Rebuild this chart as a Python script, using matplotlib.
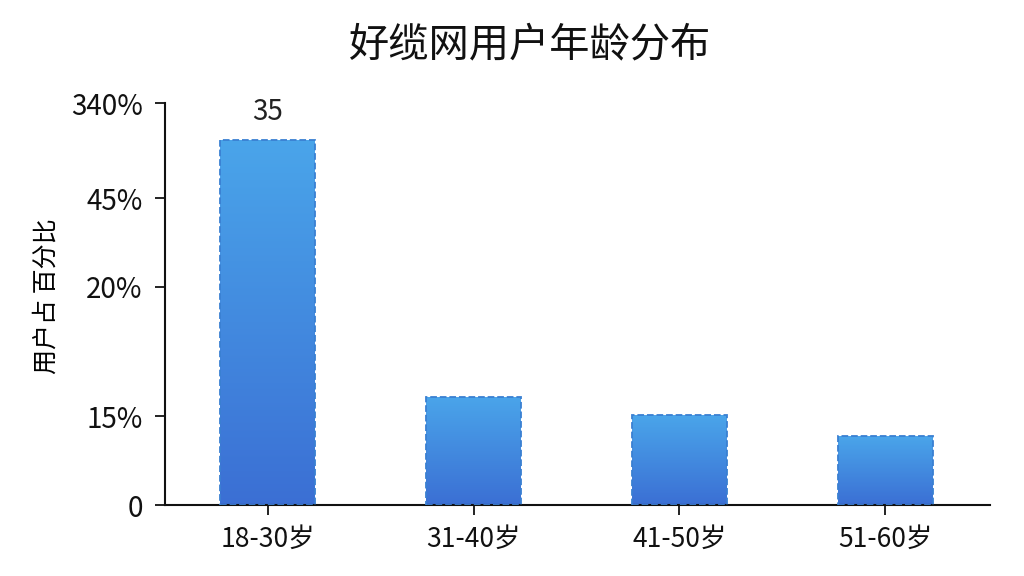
import numpy as np
import matplotlib.pyplot as plt
from matplotlib.colors import LinearSegmentedColormap

plt.rcParams['font.family'] = ['Noto Sans CJK SC', 'DejaVu Sans']

# 数据
categories = ['18-30岁', '31-40岁', '41-50岁', '51-60岁']
values = [35, 10.4, 8.6, 6.6]
bar_labels = ['35', '', '', '']
ytick_positions = [0, 8.5, 20.9, 29.4, 38.5]
ytick_labels = ['0', '15%', '20%', '45%', '340%']

fig = plt.figure(figsize=(10.24, 5.76), dpi=100)
ax = fig.add_axes([0.161, 0.123, 0.806, 0.698])

x = np.arange(len(categories))
bars = ax.bar(x, values, width=0.46, color='none', edgecolor='#3a80d2',
              linestyle='--', linewidth=1.3, zorder=3)

# 渐变填充
cmap = LinearSegmentedColormap.from_list('blu', ['#3b6fd4', '#4aa5ea'])
grad = np.linspace(0, 1, 256).reshape(-1, 1)
for b in bars:
    x0, y0 = b.get_x(), b.get_y()
    w, h = b.get_width(), b.get_height()
    im = ax.imshow(grad, cmap=cmap, origin='lower', aspect='auto',
                   extent=[x0, x0 + w, y0, y0 + h], zorder=2)
    im.set_clip_path(b)

for b, lab in zip(bars, bar_labels):
    if lab:
        ax.text(b.get_x() + b.get_width() / 2, b.get_height() + 1.2, lab,
                ha='center', va='bottom', fontsize=20, color='#222222')

ax.set_xlim(-0.5, 3.51)
ax.set_ylim(0, 38.5)
ax.set_xticks(x)
ax.set_xticklabels(categories, fontsize=19)
ax.set_yticks(ytick_positions)
ax.set_yticklabels(ytick_labels, fontsize=20)
ax.tick_params(axis='both', direction='out', length=7, width=1.3, colors='#111111')
ax.tick_params(axis='x', pad=8)
ax.tick_params(axis='y', pad=9)

for s in ['top', 'right']:
    ax.spines[s].set_visible(False)
for s in ['left', 'bottom']:
    ax.spines[s].set_linewidth(1.5)
    ax.spines[s].set_color('#111111')

ax.set_ylabel('用户占 百分比', fontsize=18)
ax.yaxis.set_label_coords(-0.127, 0.52)
fig.text(0.518, 0.922, '好缆网用户年龄分布', ha='center', va='center', fontsize=29,
         color='#111111')

fig.savefig('out.png', dpi=100)
